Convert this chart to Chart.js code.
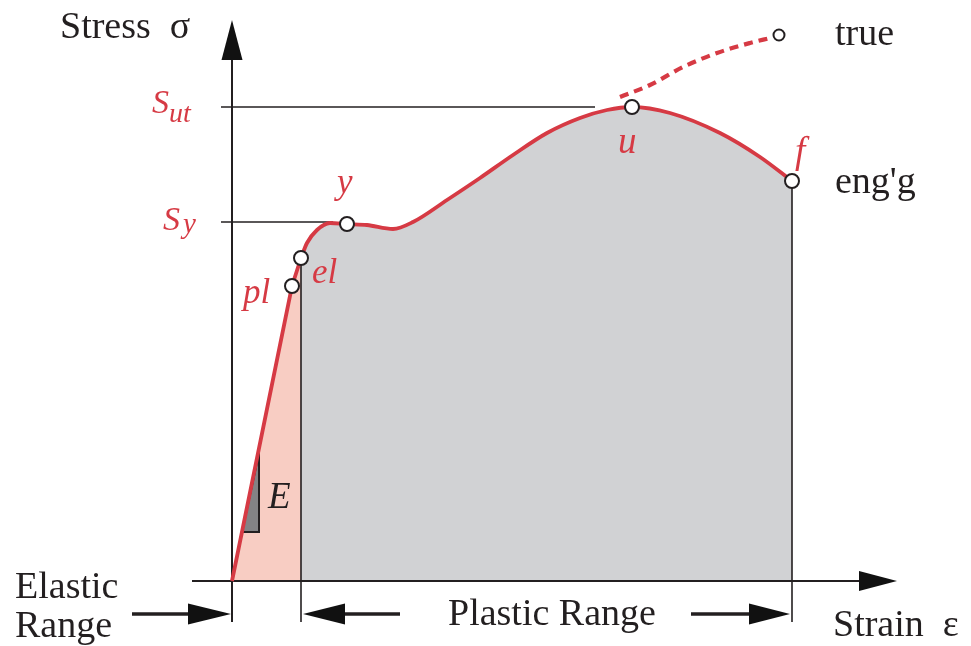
<!DOCTYPE html>
<html>
<head>
<meta charset="utf-8">
<script src="https://cdn.jsdelivr.net/npm/chart.js@4.4.1/dist/chart.umd.min.js"></script>
<style>
  html, body { margin: 0; padding: 0; background: #fff; }
  canvas { display: block; }
</style>
</head>
<body>
<canvas id="chart" width="971" height="646"></canvas>
<script>
// strain / stress (arbitrary units, origin at axis crossing)
const elasticStrain = [0, 60, 69];
const elasticStress = [0, 295, 323];

const plasticStrain = [69, 75, 85, 98, 115, 135, 161, 181, 215, 248, 281, 315, 348, 375, 400, 438, 488, 528, 560];
const plasticStress = [323, 338, 351, 358, 357, 356, 352, 359, 381, 403, 426, 448, 463, 471, 474, 468, 448, 424, 400];

const trueStrain = [388, 418, 451, 485, 518, 538];
const trueStress = [484, 496, 514, 528, 538, 543];

// pl, el, y, u, f
const keyStrain = [60, 69, 115, 400, 560];
const keyStress = [295, 323, 357, 474, 400];
const trueEnd = { x: 547, y: 546 };

const S_ut = 474;
const S_y = 359;
const elasticLimit = 69;   // start of plastic range
const fracture = 560;

const RED = '#d63a44';
const INK = '#231f20';
const pts = (xs, ys) => xs.map((x, i) => ({ x, y: ys[i] }));

// axes, reference lines, arrows (drawn right after the fills)
const linesPlugin = {
  id: 'lines',
  afterDatasetDraw(chart, args) {
    if (args.index !== 1) return;
    const { ctx, scales: { x, y } } = chart;
    const X = v => x.getPixelForValue(v), Y = v => y.getPixelForValue(v);
    const line = (x1, y1, x2, y2, w) => {
      ctx.lineWidth = w;
      ctx.beginPath(); ctx.moveTo(X(x1), Y(y1)); ctx.lineTo(X(x2), Y(y2)); ctx.stroke();
    };
    const head = (tipX, tipY, baseX, baseY, half) => {
      const tx = X(tipX), ty = Y(tipY), bx = X(baseX), by = Y(baseY);
      const dx = tx - bx, dy = ty - by, l = Math.hypot(dx, dy);
      const nx = -dy / l * half, ny = dx / l * half;
      ctx.beginPath();
      ctx.moveTo(tx, ty); ctx.lineTo(bx + nx, by + ny); ctx.lineTo(bx - nx, by - ny);
      ctx.closePath(); ctx.fill();
    };
    ctx.save();
    ctx.strokeStyle = INK;
    ctx.fillStyle = '#111';

    // E triangle
    ctx.beginPath();
    ctx.moveTo(X(27), Y(128)); ctx.lineTo(X(10), Y(49)); ctx.lineTo(X(27), Y(49)); ctx.closePath();
    ctx.fillStyle = '#838385'; ctx.fill();
    ctx.lineWidth = 2; ctx.stroke();
    ctx.fillStyle = '#111';

    // axes
    line(0, -41, 0, 522, 2);
    head(0, 561, 0, 521, 10.5);
    line(-40, 0, 628, 0, 2);
    head(665, 0, 627, 0, 10);

    // reference lines
    line(-11, S_ut, 363, S_ut, 1.6);
    line(-11, S_y, 101, S_y, 1.6);
    line(elasticLimit, 323, elasticLimit, -41, 1.6);
    line(fracture, 400, fracture, -41, 1.6);

    // range arrows
    line(-100, -33, -40, -33, 3.5);
    head(-1, -33, -44, -33, 10.5);
    line(168, -33, 110, -33, 3.5);
    head(71, -33, 113, -33, 10.5);
    line(459, -33, 520, -33, 3.5);
    head(558, -33, 517, -33, 10.5);
    ctx.restore();
  }
};

const labels = [
  { t: 'Stress  σ', x: -172, y: 543, c: INK, it: false, s: 38 },
  { t: 'true', x: 603, y: 536, c: INK, it: false, s: 38 },
  { t: "eng'g", x: 603, y: 388, c: INK, it: false, s: 38 },
  { t: 'Strain  ε', x: 601, y: -55, c: INK, it: false, s: 38 },
  { t: 'Plastic Range', x: 216, y: -44, c: INK, it: false, s: 38 },
  { t: 'Elastic', x: -217, y: -17, c: INK, it: false, s: 38 },
  { t: 'Range', x: -217, y: -56, c: INK, it: false, s: 38 },
  { t: 'E', x: 36, y: 73, c: INK, it: true, s: 37 },
  { t: 'u', x: 386, y: 428, c: RED, it: true, s: 37 },
  { t: 'f', x: 563, y: 418, c: RED, it: true, s: 37 },
  { t: 'y', x: 105, y: 388, c: RED, it: true, s: 35 },
  { t: 'el', x: 80, y: 298, c: RED, it: true, s: 35 },
  { t: 'pl', x: 11, y: 278, c: RED, it: true, s: 35 },
  { t: 'S', x: -80, y: 468, c: RED, it: true, s: 34 },
  { t: 'ut', x: -63, y: 459, c: RED, it: true, s: 28 },
  { t: 'S', x: -69, y: 351, c: RED, it: true, s: 34 },
  { t: 'y', x: -49, y: 348, c: RED, it: true, s: 29 }
];

const textPlugin = {
  id: 'texts',
  afterDatasetsDraw(chart) {
    const { ctx, scales: { x, y } } = chart;
    ctx.save();
    ctx.textBaseline = 'alphabetic';
    labels.forEach(l => {
      ctx.font = (l.it ? 'italic ' : '') + l.s + 'px "Liberation Serif"';
      ctx.fillStyle = l.c;
      ctx.fillText(l.t, x.getPixelForValue(l.x), y.getPixelForValue(l.y));
    });
    ctx.restore();
  }
};

new Chart(document.getElementById('chart'), {
  type: 'scatter',
  data: {
    datasets: [
      { data: pts(elasticStrain, elasticStress), showLine: true, fill: 'origin', backgroundColor: '#f8cdc3',
        borderWidth: 0, pointRadius: 0, tension: 0, order: 6 },
      { data: pts(plasticStrain, plasticStress), showLine: true, fill: 'origin', backgroundColor: '#d1d2d4',
        borderWidth: 0, pointRadius: 0, cubicInterpolationMode: 'monotone', order: 5 },
      { data: pts(elasticStrain, elasticStress), showLine: true, borderColor: RED, borderWidth: 3.8,
        pointRadius: 0, tension: 0, order: 4 },
      { data: pts(plasticStrain, plasticStress), showLine: true, borderColor: RED, borderWidth: 3.8,
        pointRadius: 0, cubicInterpolationMode: 'monotone', order: 3 },
      { data: pts(trueStrain, trueStress), showLine: true, borderColor: RED, borderWidth: 4.2, borderDash: [9, 6],
        pointRadius: 0, cubicInterpolationMode: 'monotone', order: 2 },
      { data: pts(keyStrain, keyStress), showLine: false, pointRadius: 7, pointBorderWidth: 2,
        pointBackgroundColor: '#fff', pointBorderColor: INK, order: 1 },
      { data: [trueEnd], showLine: false, pointRadius: 5.5, pointBorderWidth: 2,
        pointBackgroundColor: '#fff', pointBorderColor: INK, order: 0 }
    ]
  },
  options: {
    responsive: false,
    animation: false,
    devicePixelRatio: 1,
    layout: { padding: 0, autoPadding: false },
    plugins: { legend: { display: false }, tooltip: { enabled: false } },
    scales: {
      x: { type: 'linear', min: -232, max: 739, display: false },
      y: { type: 'linear', min: -65, max: 581, display: false }
    }
  },
  plugins: [linesPlugin, textPlugin]
});
</script>
</body>
</html>
